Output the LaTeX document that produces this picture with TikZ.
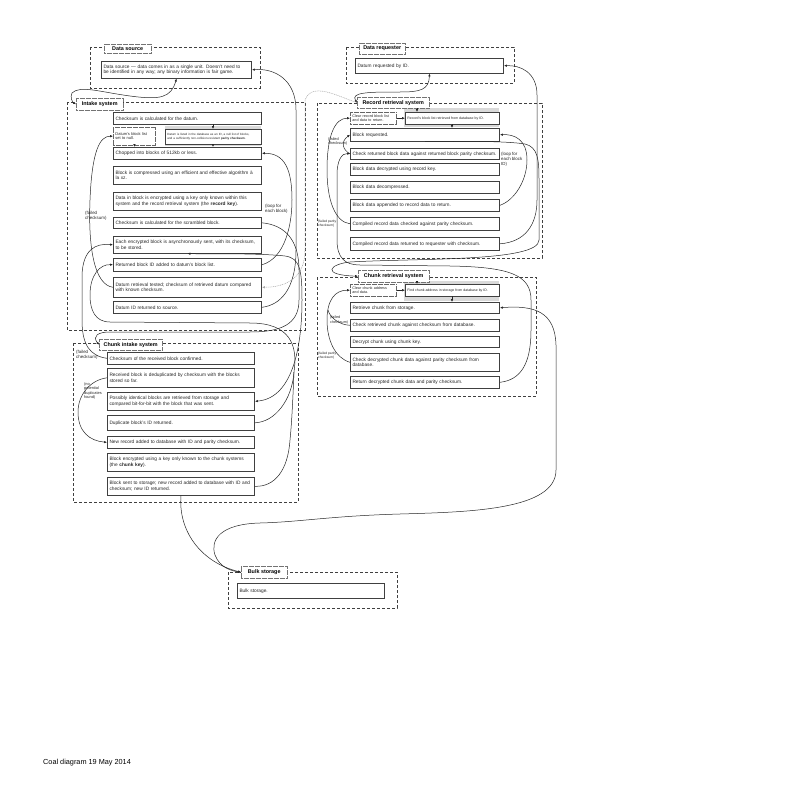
\documentclass[tikz,border=0pt]{standalone}
\usepackage{fontspec}
\setmainfont{Liberation Sans}
\usetikzlibrary{arrows.meta}
\newcommand\mkbox[7]{%
  \pgfmathsetmacro\mybw{#5-#3}\pgfmathsetmacro\mybh{#6-#4}\pgfmathsetmacro\mytw{#5-#3-4}%
  \node[#1, minimum width=\mybw pt, minimum height=\mybh pt, text width=\mytw pt, anchor=north west] (#2) at (#3,#4) {#7};}
\newcommand\mkttl[6]{%
  \pgfmathsetmacro\mybw{#4-#2}\pgfmathsetmacro\mybh{#5-#3}%
  \node[ttl, minimum width=\mybw pt, minimum height=\mybh pt, anchor=north west] (#1) at (#2,#3) {#6};}
\tikzset{
 grp/.style={draw=black!75, dash pattern=on 3pt off 2pt, line width=0.45pt},
 ttl/.style={draw=black!55, dash pattern=on 0.6pt off 0.6pt, line width=0.4pt, fill=white, font=\fontsize{5.4}{6}\selectfont\bfseries, inner sep=0pt, align=center},
 box/.style={draw=black!75, line width=0.6pt, fill=white, font=\fontsize{4.8}{5.7}\selectfont, align=left, inner xsep=2.2pt, inner ysep=0pt, text=black!85},
 sbox/.style={box, line width=0.4pt, font=\fontsize{3.0}{3.6}\selectfont},
 dbox/.style={box, draw=black!60, dash pattern=on 0.6pt off 0.6pt, line width=0.4pt, font=\fontsize{4.0}{4.6}\selectfont},
 lbl/.style={font=\fontsize{4.4}{5}\selectfont, align=left, inner sep=0pt, text=black!85, anchor=north west},
 tip/.tip={Latex[length=2.8pt,width=2.4pt]},
 conn/.style={line width=0.5pt, draw=black!85, -tip},
 bconn/.style={line width=0.5pt, draw=black!85, tip-tip},
 pconn/.style={line width=0.5pt, draw=black!85},
 gconn/.style={line width=0.5pt, draw=black!35, dash pattern=on 1pt off 0.8pt, -tip},
}
\begin{document}
\hyphenpenalty=10000 \exhyphenpenalty=10000
\begin{tikzpicture}[x=1pt,y=-1pt]
\useasboundingbox (0,0) rectangle (792,792);
\fill[white] (0,0) rectangle (792,792);
% ---------- groups ----------
\draw[grp] (90,47) rectangle (260,88);
\draw[grp] (67,102) rectangle (305,330);
\draw[grp] (73,343) rectangle (298,502);
\draw[grp] (228,572) rectangle (397,608);
\draw[grp] (346,47) rectangle (514,83);
\draw[grp] (317,103) rectangle (542,258);
\draw[grp] (317,277) rectangle (536,396);
% gray bands
\fill[black!15] (165,126) rectangle (261,146);
\fill[black!15] (404,108) rectangle (499,127);
\fill[black!15] (404,281) rectangle (499,301);
% ---------- titles ----------
\mkttl{dstl}{104}{44}{151}{53}{Data source}
\mkttl{itl}{76}{98}{123}{110}{Intake system}
\mkttl{ctl}{99}{339}{162}{350}{Chunk intake system}
\mkttl{btl}{241}{566}{287}{578}{Bulk storage}
\mkttl{drtl}{359}{43}{405}{54}{Data requester}
\mkttl{rtl}{357}{97}{429}{108}{Record retrieval system}
\mkttl{ktl}{358}{270}{429}{282}{Chunk retrieval system}
% ---------- data source ----------
\mkbox{box}{dsbox}{101}{61}{251}{78}{Data source --- data comes in as a single unit. Doesn't need to\\be identified in any way; any binary information is fair game.}
% ---------- intake ----------
\mkbox{box}{b1}{113}{112}{261}{124}{Checksum is calculated for the datum.}
\mkbox{dbox}{b2a}{113}{127}{155}{145}{Datum's block list\\set to null.}
\mkbox{sbox}{b2b}{165}{129}{261}{144}{Datum is listed in the database as an ID, a null list of blocks,\\and a sufficiently non-collision-resistant \textbf{parity checksum}.}
\mkbox{box}{b3}{113}{147}{261}{159}{Chopped into blocks of 512kb or less.}
\mkbox{box}{b4}{113}{166}{261}{184}{Block is compressed using an efficient and effective algorithm à\\la xz.}
\mkbox{box}{b5}{113}{192}{261}{210}{Data in block is encrypted using a key only known within this\\system and the record retrieval system (the \textbf{record key}).}
\mkbox{box}{b5b}{113}{217}{261}{228}{Checksum is calculated for the scrambled block.}
\mkbox{box}{b6}{113}{236}{261}{253}{Each encrypted block is asynchronously sent, with its checksum,\\to be stored.}
\mkbox{box}{b7}{113}{258}{261}{271}{Returned block ID added to datum's block list.}
\mkbox{box}{b8}{113}{277}{261}{297}{Datum retrieval tested; checksum of retrieved datum compared\\with known checksum.}
\mkbox{box}{b9}{113}{301}{261}{313}{Datum ID returned to source.}
\node[lbl] (l1) at (85,211) {(failed\\checksum)};
\node[lbl] (l2) at (265,204) {(loop for\\each block)};
% ---------- chunk intake ----------
\mkbox{box}{c1}{107}{352}{254}{364}{Checksum of the received block confirmed.}
\mkbox{box}{c2}{107}{368}{254}{387}{Received block is deduplicated by checksum with the blocks\\stored so far.}
\mkbox{box}{c3}{107}{392}{254}{410}{Possibly identical blocks are retrieved from storage and\\compared bit-for-bit with the block that was sent.}
\mkbox{box}{c4}{107}{415}{254}{430}{Duplicate block's ID returned.}
\mkbox{box}{c5}{107}{436}{254}{448}{New record added to database with ID and parity checksum.}
\mkbox{box}{c6}{107}{453}{254}{471}{Block encrypted using a key only known to the chunk systems\\(the \textbf{chunk key}).}
\mkbox{box}{c7}{107}{477}{254}{495}{Block sent to storage; new record added to database with ID and\\checksum; new ID returned.}
\node[lbl] (l3) at (76,350) {(failed\\checksum)};
\node[lbl, font=\fontsize{3.9}{4.6}\selectfont] (l4) at (84,382) {(no\\potential\\duplicates\\found)};
% ---------- bulk ----------
\mkbox{box}{bbox}{237}{583}{384}{598}{Bulk storage.}
% ---------- data requester ----------
\mkbox{box}{drbox}{355}{58}{503}{73}{Datum requested by ID.}
% ---------- record retrieval ----------
\mkbox{dbox}{r0a}{350}{112}{396}{124}{\fontsize{3.7}{4.2}\selectfont Clear record block list\\and data to return.}
\mkbox{sbox}{r0b}{405}{112}{499}{124}{\fontsize{3.5}{4}\selectfont Record's block list retrieved from database by ID.}
\mkbox{box}{r1}{350}{128}{499}{141}{Block requested.}
\mkbox{box}{r2}{350}{148}{499}{159}{Check returned block data against returned block parity checksum.}
\mkbox{box}{r3}{350}{163}{499}{175}{Block data decrypted using record key.}
\mkbox{box}{r4}{350}{181}{499}{193}{Block data decompressed.}
\mkbox{box}{r5}{350}{199}{499}{211}{Block data appended to record data to return.}
\mkbox{box}{r6}{350}{217}{499}{230}{Compiled record data checked against parity checksum.}
\mkbox{box}{r7}{350}{237}{499}{250}{Compiled record data returned to requester with checksum.}
\node[lbl, font=\fontsize{3.9}{4.6}\selectfont] (l5) at (328,137) {(failed\\checksum)};
\node[lbl] (l6) at (501,152) {(loop for\\each block\\ID)};
\node[lbl, font=\fontsize{3.3}{4}\selectfont] (l7) at (318,220) {(failed parity\\checksum)};
% ---------- chunk retrieval ----------
\mkbox{dbox}{k0a}{350}{284}{396}{296}{\fontsize{3.7}{4.2}\selectfont Clear chunk address\\and data.}
\mkbox{sbox}{k0b}{405}{284}{499}{296}{\fontsize{3.5}{4}\selectfont Find chunk address in storage from database by ID.}
\mkbox{box}{k1}{350}{302}{499}{313}{Retrieve chunk from storage.}
\mkbox{box}{k2}{350}{319}{499}{331}{Check retrieved chunk against checksum from database.}
\mkbox{box}{k3}{350}{336}{499}{347}{Decrypt chunk using chunk key.}
\mkbox{box}{k4}{350}{353}{499}{371}{Check decrypted chunk data against parity checksum from\\database.}
\mkbox{box}{k5}{350}{376}{499}{388}{Return decrypted chunk data and parity checksum.}
\node[lbl, font=\fontsize{3.7}{4.4}\selectfont] (l8) at (330,316) {(failed\\checksum)};
\node[lbl, font=\fontsize{3.3}{4}\selectfont] (l9) at (318,352) {(failed parity\\checksum)};
% ---------- caption ----------
\node[anchor=west, font=\fontsize{7.3}{8}\selectfont, inner sep=0pt] (cap) at (43,763) {Coal diagram 19 May 2014};
% ---------- short arrows ----------
\coordinate (a1) at (213,124); \coordinate (a2) at (213,129);
\draw[conn] (a1) -- (a2);
\draw[conn] (b2a.south) -- (b2a.south |- b3.north);
\coordinate (a3) at (213,144); \coordinate (a4) at (213,147);
\draw[conn] (a3) -- (a4);
\coordinate (a5) at (417,108); \coordinate (a6) at (417,112);
\draw[conn] (a5) -- (a6);
\draw[conn] (r0a.east) -- (r0b.west);
\coordinate (a7) at (452,124); \coordinate (a8) at (452,128);
\draw[conn] (a7) -- (a8);
\coordinate (a9) at (417,282); \coordinate (a10) at (417,284);
\draw[conn] (a9) -- (a10);
\draw[conn] (k0a.east) -- (k0b.west);
\coordinate (a11) at (452,296); \coordinate (a12) at (452,302);
\draw[conn] (a11) -- (a12);
% ---------- curves left ----------
\draw[bconn] (dsbox.south) .. controls (171,98) and (160,100) .. (130,96) .. controls (100,92) and (80,85) .. (72,93) .. controls (70,97) and (72,102) .. (itl.west);
\draw[conn] (b9.east) .. controls (280,305) and (296,290) .. (296,250) -- (296,110) .. controls (296,80) and (275,68) .. (dsbox.east);
\draw[gconn] (rtl.west) .. controls (335,95) and (312,82) .. (305,100) -- (305,250) .. controls (305,270) and (295,287) .. (b8.east);
\draw[conn] (b8.west) .. controls (95,285) and (88,250) .. (90,200) .. controls (92,150) and (100,136) .. (b2a.west);
\draw[conn] (b7.east) .. controls (285,258) and (292,225) .. (292,200) .. controls (292,170) and (285,153) .. (b3.east);
\draw[conn] (c1.west) .. controls (90,356) and (82,345) .. (82,320) -- (82,275) .. controls (83,250) and (95,243) .. (b6.west);
\draw[bconn] (b6.south) .. controls (200,254) and (260,253) .. (285,256) .. controls (300,258) and (302,270) .. (302,300) .. controls (302,340) and (295,398) .. (c3.east);
\coordinate (m1) at (294,372);
\draw[conn] (c4.east) .. controls (275,422) and (292,400) .. (m1) .. controls (298,345) and (290,323) .. (250,323) -- (110,322) .. controls (95,322) and (90,310) .. (90,295) .. controls (90,275) and (100,264) .. (b7.west);
\draw[pconn] (c7.east) .. controls (275,487) and (288,470) .. (290,440) .. controls (292,420) and (293,395) .. (m1);
\draw[conn] (b5b.east) .. controls (285,225) and (299,240) .. (299,270) -- (299,300) .. controls (299,325) and (280,332) .. (250,332) -- (110,332) .. controls (98,332) and (92,336) .. (ctl.west);
\draw[conn] (c2.west) .. controls (90,380) and (78,395) .. (78,412) .. controls (78,432) and (90,441) .. (c5.west);
\draw[conn] (c7.south) .. controls (178,530) and (200,562) .. (btl.west);
\draw[bconn] (k1.east) .. controls (535,305) and (555,312) .. (556,345) -- (556,470) .. controls (556,510) and (470,512) .. (400,514) .. controls (330,516) and (300,522) .. (260,523) .. controls (220,524) and (210,540) .. (215,555) .. controls (220,568) and (232,571) .. (btl.west);
% ---------- curves right ----------
\draw[bconn] (drbox.south) .. controls (429,90) and (420,92) .. (400,92) .. controls (370,92) and (350,92) .. (rtl.west);
\draw[conn] (r5.east) .. controls (515,200) and (527,180) .. (527,160) .. controls (527,140) and (515,134) .. (r1.east);
\draw[conn] (r7.east) .. controls (525,242) and (537,225) .. (537,200) -- (537,95) .. controls (537,72) and (520,65) .. (drbox.east);
\draw[conn] (r1.south) .. controls (440,142) and (500,140) .. (525,144) .. controls (538,147) and (539,160) .. (539,180) -- (539,240) .. controls (539,262) and (420,258) .. (350,262) .. controls (330,264) and (320,275) .. (ktl.west);
\draw[conn] (k5.east) .. controls (520,380) and (531,365) .. (531,330) -- (531,300) .. controls (531,275) and (510,267) .. (450,266) -- (360,265) .. controls (345,265) and (337,258) .. (337,240) -- (337,175) .. controls (337,160) and (342,153) .. (r2.west);
\draw[conn] (r6.west) .. controls (335,222) and (327,200) .. (327,170) .. controls (327,135) and (335,118) .. (r0a.west);
\draw[conn] (r2.west) .. controls (343,150) and (340,142) .. (r1.west);
\draw[conn] (k4.west) .. controls (335,358) and (327,340) .. (327,320) .. controls (327,300) and (335,290) .. (k0a.west);
\draw[pconn] (k2.west) .. controls (340,325) and (330,318) .. (328,310);
\end{tikzpicture}
\end{document}
